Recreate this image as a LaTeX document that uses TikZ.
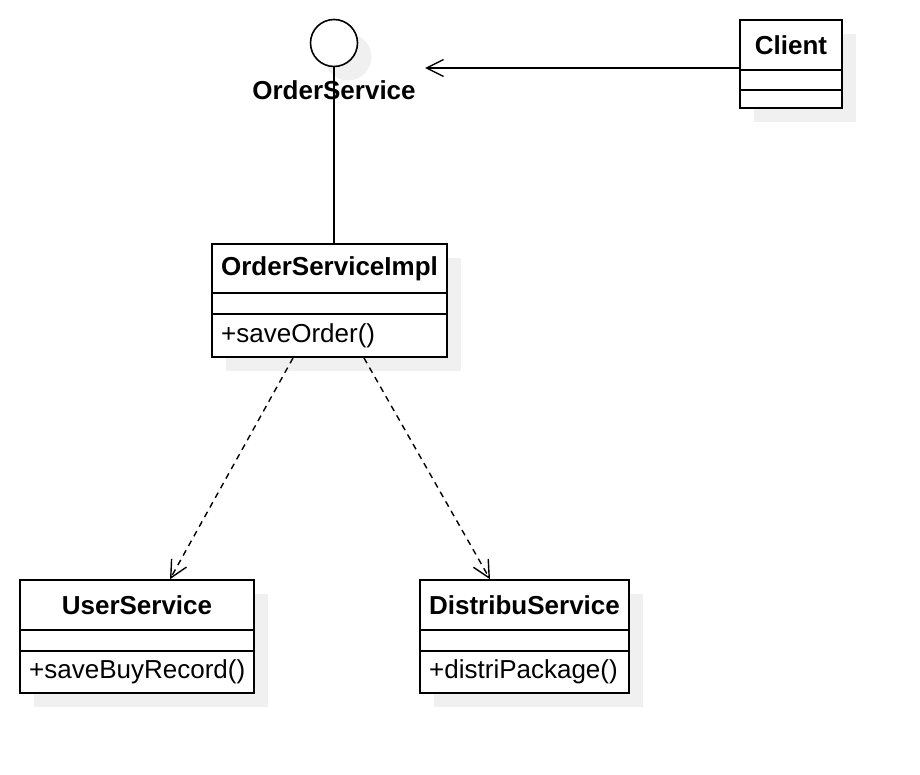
\documentclass[tikz,border=0pt]{standalone}
\usepackage{fontspec}
\setmainfont{Liberation Sans}
\usetikzlibrary{arrows.meta}
\definecolor{shade}{HTML}{F0F0F0}
\tikzset{
  cls/.style={draw=black, line width=1.6pt, fill=white, inner sep=0pt, rectangle},
  shadowbox/.style={fill=shade, draw=none},
  titletext/.style={font=\fontsize{26}{30}\selectfont\bfseries, inner sep=0pt},
  membertext/.style={font=\fontsize{26}{30}\selectfont, anchor=west, inner sep=0pt},
  sepline/.style={line width=1.6pt},
  openhead/.style={-{Straight Barb[length=17pt, width=17pt, line width=1.4pt]}},
  dep/.style={line width=1.4pt, dash pattern=on 6pt off 5pt, openhead},
  assoc/.style={line width=1.6pt, openhead},
}
\begin{document}
\begin{tikzpicture}[x=1pt, y=-1pt]
\useasboundingbox (0,0) rectangle (920,774);

% shadows
\fill[shadowbox] (754,34) rectangle (856,122);
\fill[shadowbox] (226,258) rectangle (461,371);
\fill[shadowbox] (34,594) rectangle (268,707);
\fill[shadowbox] (434,594) rectangle (643,707);
\fill[shadowbox] (348,57) circle (23.5);

% interface
\node[circle, draw=black, line width=1.6pt, fill=white, minimum size=47, inner sep=0pt] (osi) at (334,43) {};

% Client
\node[cls, minimum width=102, minimum height=88] (client) at (791,64) {};
\draw[sepline] (740,70) -- (842,70);
\draw[sepline] (740,90) -- (842,90);
\node[titletext] (clientT) at (791,45) {Client};

% OrderServiceImpl
\node[cls, minimum width=235, minimum height=113] (impl) at (329.5,300.5) {};
\draw[sepline] (212,293) -- (447,293);
\draw[sepline] (212,314) -- (447,314);
\node[titletext] (implT) at (329.5,269) {OrderServiceImpl};
\node[membertext] (implM) at (221,335.5) {+saveOrder()};

% UserService
\node[cls, minimum width=234, minimum height=113] (user) at (137,636.5) {};
\draw[sepline] (20,630) -- (254,630);
\draw[sepline] (20,651) -- (254,651);
\node[titletext] (userT) at (137,605) {UserService};
\node[membertext] (userM) at (29,671.5) {+saveBuyRecord()};

% DistribuService
\node[cls, minimum width=209, minimum height=113] (dist) at (524.5,636.5) {};
\draw[sepline] (420,630) -- (629,630);
\draw[sepline] (420,651) -- (629,651);
\node[titletext] (distT) at (524.5,605) {DistribuService};
\node[membertext] (distM) at (429,671.5) {+distriPackage()};

% connectors
\coordinate (assocEnd) at (425,68);
\draw[sepline] (osi.south) -- (osi.south |- impl.north);
\node[titletext] (osiL) at (334,90) {OrderService};
\draw[assoc] (client.west |- 0,68) -- (assocEnd);
\draw[dep] (293,358) -- (user.north -| 170,0);
\draw[dep] (364,358) -- (dist.north -| 490,0);
\end{tikzpicture}
\end{document}
